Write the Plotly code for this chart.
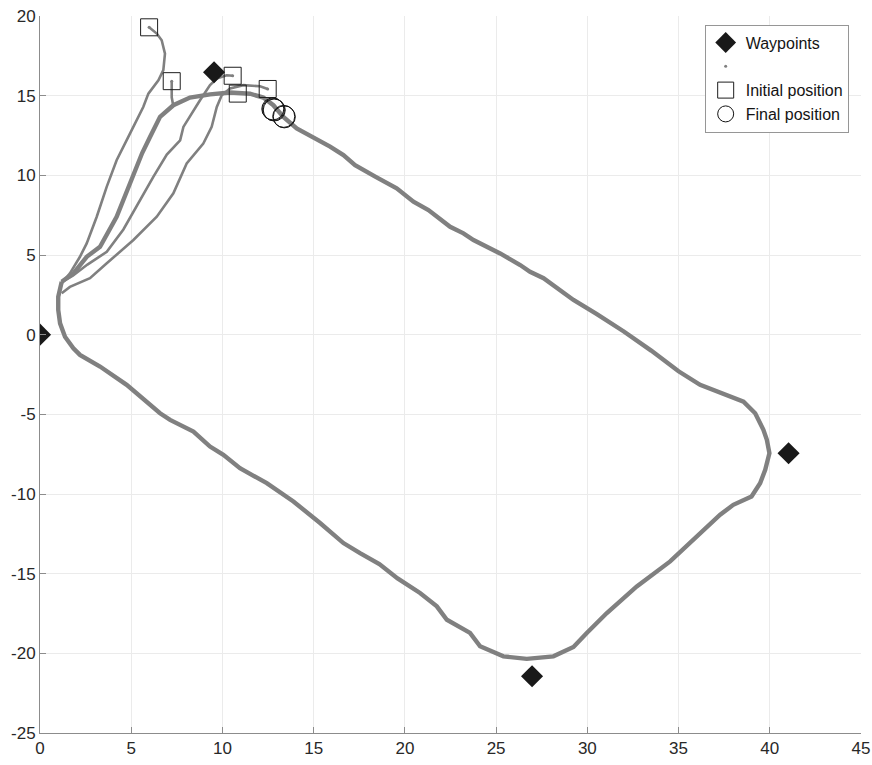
import plotly.graph_objects as go

# ---- data ----
waypoint_x = [0.0, 9.54, 41.03, 26.97]
waypoint_y = [0.0, 16.47, -7.44, -21.44]

start_x = [5.98, 7.22, 10.56, 10.84, 12.48]
start_y = [19.29, 15.91, 16.25, 15.13, 15.42]

final_x = [12.76, 12.80, 12.84, 13.39, 13.36]
final_y = [14.17, 14.13, 14.10, 13.67, 13.70]

# shared closed loop (all robots overlap here)
loop_x = [1.19, 1.83, 2.56, 3.29, 4.2, 4.93, 5.6, 6.03, 6.58, 7.31, 8.22, 9.32, 10.42, 11.51,
          12.24, 12.79, 13.34, 14.07, 14.98, 15.9, 16.63, 17.27, 18.4, 19.55, 20.47, 21.29,
          22.48, 23.21, 23.76, 25.22, 26.32, 26.86, 27.6, 29.24, 30.5, 32.0, 33.5, 35.0,
          36.18, 37.4, 38.56, 39.2, 39.65, 39.84, 39.98, 39.75, 39.47, 39.0, 38.0, 37.28,
          36.18, 34.54, 32.71, 31.07, 29.97, 29.24, 28.14, 26.68, 25.4, 24.12, 23.57, 22.3,
          21.75, 20.83, 19.6, 18.6, 17.54, 16.63, 15.35, 13.89, 12.43, 10.96, 10.05, 9.32,
          8.41, 7.13, 6.58, 4.75, 3.29, 2.19, 1.83, 1.37, 1.1, 1.0, 1.0, 1.19]
loop_y = [3.32, 3.85, 4.89, 5.52, 7.4, 9.5, 11.4, 12.41, 13.67, 14.4, 14.88, 15.08, 15.2, 15.12,
          14.88, 14.4, 13.67, 12.94, 12.41, 11.8, 11.27, 10.64, 9.9, 9.18, 8.34, 7.82,
          6.77, 6.36, 5.94, 5.10, 4.37, 3.95, 3.54, 2.18, 1.3, 0.2, -1.0, -2.3,
          -3.15, -3.7, -4.2, -4.93, -5.97, -6.6, -7.44, -8.48, -9.32, -10.16, -10.68, -11.3,
          -12.45, -14.23, -15.8, -17.47, -18.72, -19.6, -20.19, -20.35, -20.19, -19.56, -18.72, -17.89,
          -17.05, -16.21, -15.3, -14.4, -13.71, -13.08, -11.82, -10.47, -9.32, -8.38, -7.54, -7.02,
          -6.08, -5.35, -4.93, -3.15, -2.0, -1.27, -0.85, -0.13, 0.71, 1.55, 2.38, 3.32]

# individual approach paths from the initial positions
path1_x = [5.98, 6.4, 6.67, 6.85, 6.76, 6.49, 5.94, 5.66, 4.93, 4.2, 3.66, 3.11, 2.56, 2.19, 1.64, 1.19]
path1_y = [19.29, 18.9, 18.48, 17.64, 16.6, 15.97, 15.13, 14.29, 12.62, 10.95, 9.29, 7.4, 5.73, 4.89, 3.85, 3.22]

path2_x = [7.22, 7.22, 7.3]
path2_y = [15.91, 14.9, 14.4]

path3_x = [10.56, 10.23, 9.69, 9.32, 8.77, 8.22, 7.86, 7.68, 6.95, 6.21, 5.48, 4.57, 3.66, 2.6, 1.8, 1.19]
path3_y = [16.25, 16.28, 16.07, 15.66, 14.71, 13.67, 13.04, 12.2, 11.3, 9.9, 8.4, 6.6, 5.2, 4.4, 3.7, 3.3]

path5_x = [12.48, 12.06, 11.15, 10.42, 9.96, 9.69, 9.41, 8.95, 8.04, 7.31, 6.4, 5.12, 3.66, 2.74, 1.64, 1.19]
path5_y = [15.42, 15.59, 15.66, 15.45, 15.03, 14.29, 13.04, 12.0, 10.74, 8.87, 7.4, 5.94, 4.48, 3.54, 3.0, 2.6]

x_ticks = [0, 5, 10, 15, 20, 25, 30, 35, 40, 45]
y_ticks = [-25, -20, -15, -10, -5, 0, 5, 10, 15, 20]

LINE = "rgb(128,128,128)"
FONT = "Liberation Sans, Arial, Helvetica, sans-serif"

fig = go.Figure()

fig.add_trace(go.Scatter(x=loop_x, y=loop_y, mode="lines",
                         line=dict(color=LINE, width=4.4), showlegend=False, hoverinfo="skip"))
for px, py in [(path1_x, path1_y), (path2_x, path2_y), (path3_x, path3_y), (path5_x, path5_y)]:
    fig.add_trace(go.Scatter(x=px, y=py, mode="lines",
                             line=dict(color=LINE, width=2.6), showlegend=False, hoverinfo="skip"))

fig.add_trace(go.Scatter(x=waypoint_x, y=waypoint_y, mode="markers", name="Waypoints",
                         marker=dict(symbol="diamond", size=17, color="rgb(25,25,25)",
                                     line=dict(width=0))))
fig.add_trace(go.Scatter(x=start_x, y=start_y, mode="markers", name=" ",
                         marker=dict(symbol="circle", size=3, color=LINE, line=dict(width=0))))
fig.add_trace(go.Scatter(x=start_x, y=start_y, mode="markers", name="Initial position",
                         marker=dict(symbol="square-open", size=17, color="rgb(30,30,30)",
                                     line=dict(width=1, color="rgb(30,30,30)"))))
fig.add_trace(go.Scatter(x=final_x, y=final_y, mode="markers", name="Final position",
                         marker=dict(symbol="circle-open", size=22, color="rgb(20,20,20)",
                                     line=dict(width=1, color="rgb(20,20,20)"))))

axis_common = dict(
    showgrid=True, gridcolor="rgb(235,235,235)", gridwidth=1,
    showline=True, linecolor="rgb(140,140,140)", linewidth=1,
    ticks="inside", ticklen=6, tickcolor="rgb(140,140,140)", tickwidth=1,
    zeroline=False, mirror=False, automargin=False, ticklabeloverflow="allow",
    tickfont=dict(family=FONT, size=17, color="rgb(40,40,40)"),
)

fig.update_layout(
    width=872, height=765,
    margin=dict(l=40, r=11, t=16, b=32),
    paper_bgcolor="white", plot_bgcolor="white",
    font=dict(family=FONT),
    xaxis=dict(range=[0, 45], tickvals=x_ticks, ticktext=[str(v) for v in x_ticks], **axis_common),
    yaxis=dict(range=[-25, 20], tickvals=y_ticks, ticktext=[str(v) for v in y_ticks], **axis_common),
    legend=dict(x=0.985, y=0.988, xanchor="right", yanchor="top",
                bgcolor="white", bordercolor="rgb(150,150,150)", borderwidth=1,
                font=dict(family=FONT, size=16, color="rgb(20,20,20)"),
                itemsizing="trace", tracegroupgap=0),
    showlegend=True,
)

# remove the default page margin so the figure fills the window exactly
fig.write_html("out.html",
               config={"displayModeBar": False},
               post_script="document.body.style.margin='0';document.body.style.overflow='hidden';")
